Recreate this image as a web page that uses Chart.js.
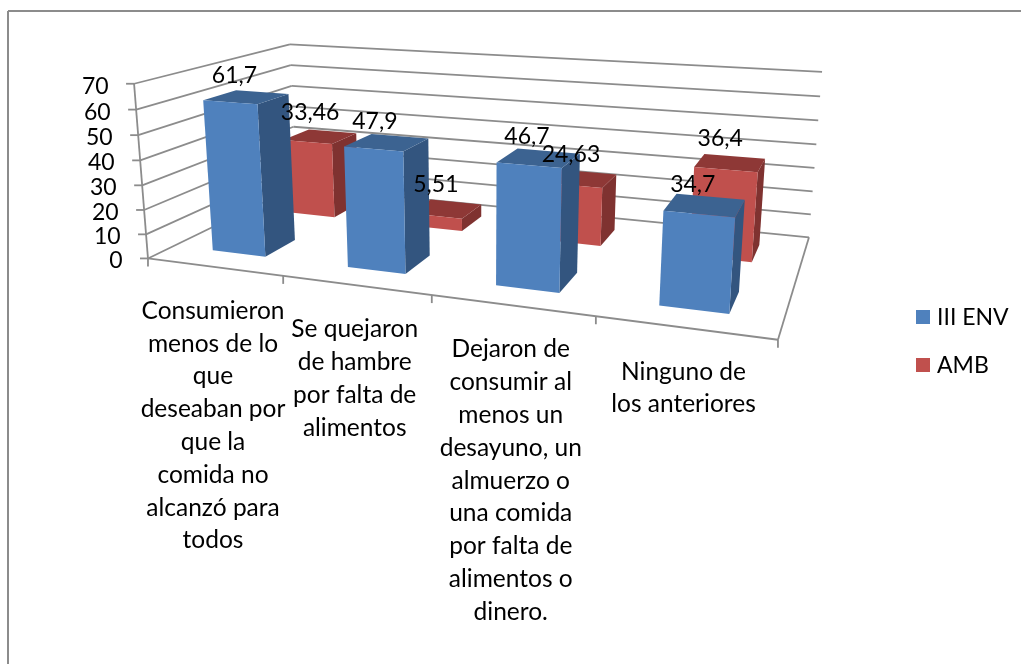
<!DOCTYPE html>
<html>
<head>
<meta charset="utf-8">
<title>Consumo de alimentos</title>
<script src="https://cdn.jsdelivr.net/npm/chart.js@4"></script>
<style>
    html, body { margin: 0; padding: 0; background: #fff; }
    #chart-box { position: relative; width: 1021px; height: 664px; }
</style>
</head>
<body>
<div id="chart-box"><canvas id="chart"></canvas></div>
<script>
// --- Data ---
const categories = [
    ['Consumieron', 'menos de lo', 'que', 'deseaban por', 'que la', 'comida no', 'alcanzó para', 'todos'],
    ['Se quejaron', 'de hambre', 'por falta de', 'alimentos'],
    ['Dejaron de', 'consumir al', 'menos un', 'desayuno, un', 'almuerzo o', 'una comida', 'por falta de', 'alimentos o', 'dinero.'],
    ['Ninguno de', 'los anteriores']
];
const envValues = [61.7, 47.9, 46.7, 34.7];
const ambValues = [33.46, 5.51, 24.63, 36.4];
const envLabels = ['61,7', '47,9', '46,7', '34,7'];
const ambLabels = ['33,46', '5,51', '24,63', '36,4'];

// --- Style ---
const FONT = '23px Lato, "Open Sans", sans-serif';
const CATEGORY_FONT = '24.5px Lato, "Open Sans", sans-serif';
const LINE_GREY = '#8c8c8c';
const BLUE = { front: '#4f81bd', side: '#33557f', top: '#3c6391' };
const RED = { front: '#c0504d', side: '#7f3230', top: '#8e3836' };
const ROW_DEPTH = [[0.15, 0.35], [0.65, 0.85]]; // env row, amb row
const LABEL_SHIFT = [{ x: -12, y: -21 }, { x: -10, y: -24 }];

// --- 3D view ---
// Screen points of the box corners as [u, d, v, x, y]
const VIEW_POINTS = [
    [0, 0, 0, 148, 258], [1, 0, 0, 778, 340], [0, 1, 0, 296, 187], [1, 1, 0, 809, 237],
    [0, 0, 1, 134, 84], [0, 1, 1, 290, 44], [1, 1, 1, 822, 72]
];

function solve(A, b) {
    const n = b.length;
    const M = A.map((row, i) => [...row, b[i]]);
    for (let c = 0; c < n; c++) {
        let p = c;
        for (let r = c + 1; r < n; r++) if (Math.abs(M[r][c]) > Math.abs(M[p][c])) p = r;
        [M[c], M[p]] = [M[p], M[c]];
        for (let r = 0; r < n; r++) {
            if (r === c) continue;
            const f = M[r][c] / M[c][c];
            for (let k = c; k <= n; k++) M[r][k] -= f * M[c][k];
        }
    }
    return M.map((row, i) => row[n] / row[i]);
}

// least squares fit of a 3x4 projection, last entry fixed to 1
function fitProjection(points) {
    const rows = [], rhs = [];
    points.forEach(([u, d, v, x, y]) => {
        rows.push([u, d, v, 1, 0, 0, 0, 0, -x * u, -x * d, -x * v]); rhs.push(x);
        rows.push([0, 0, 0, 0, u, d, v, 1, -y * u, -y * d, -y * v]); rhs.push(y);
    });
    const size = 11;
    const AtA = [], Atb = [];
    for (let i = 0; i < size; i++) {
        AtA.push([]);
        for (let j = 0; j < size; j++) AtA[i].push(rows.reduce((s, r) => s + r[i] * r[j], 0) + (i === j ? 1e-9 : 0));
        Atb.push(rows.reduce((s, r, k) => s + r[i] * rhs[k], 0));
    }
    return solve(AtA, Atb);
}

const P = fitProjection(VIEW_POINTS);
function project(u, d, v) {
    const w = P[8] * u + P[9] * d + P[10] * v + 1;
    return {
        x: (P[0] * u + P[1] * d + P[2] * v + P[3]) / w,
        y: (P[4] * u + P[5] * d + P[6] * v + P[7]) / w
    };
}

// --- Drawing helpers ---
function line(ctx, a, b) {
    ctx.beginPath();
    ctx.moveTo(a.x, a.y);
    ctx.lineTo(b.x, b.y);
    ctx.stroke();
}

function face(ctx, pts, color) {
    ctx.fillStyle = color;
    ctx.beginPath();
    pts.forEach((p, i) => (i ? ctx.lineTo(p.x, p.y) : ctx.moveTo(p.x, p.y)));
    ctx.closePath();
    ctx.fill();
}

const box3d = {
    id: 'box3d',
    beforeDatasetsDraw(chart) {
        const { ctx, chartArea: area, scales } = chart;
        const uOf = px => (px - area.left) / area.width;
        const vOf = py => (area.bottom - py) / area.height;
        const yTicks = scales.y.ticks.map(t => t.value);

        ctx.save();
        // page frame, only top and left edges show
        ctx.strokeStyle = LINE_GREY;
        ctx.lineWidth = 2;
        line(ctx, { x: 8, y: 664 }, { x: 8, y: 11 });
        line(ctx, { x: 8, y: 11 }, { x: 1021, y: 11 });

        // walls and value axis
        ctx.lineWidth = 1.8;
        ctx.font = FONT;
        ctx.fillStyle = '#000';
        ctx.textAlign = 'right';
        ctx.textBaseline = 'middle';
        yTicks.forEach(value => {
            const v = vOf(scales.y.getPixelForValue(value));
            const front = project(0, 0, v);
            const back = project(0, 1, v);
            line(ctx, front, back);
            line(ctx, back, project(1, 1, v));
            line(ctx, front, { x: front.x - 8, y: front.y });
            ctx.fillText(String(value), front.x - 25.5, front.y + 2.5);
        });
        line(ctx, project(0, 0, 0), project(0, 0, 1));

        // floor
        line(ctx, project(0, 0, 0), project(1, 0, 0));
        line(ctx, project(1, 0, 0), project(1, 1, 0));

        // category ticks and labels
        ctx.font = CATEGORY_FONT;
        ctx.textAlign = 'center';
        categories.forEach((lines, i) => {
            const left = uOf(scales.x.getPixelForValue(i) - area.width / categories.length / 2);
            const tick = project(left, 0, 0);
            line(ctx, tick, { x: tick.x, y: tick.y + 8 });
            const mid = project(uOf(scales.x.getPixelForValue(i)), 0, 0);
            lines.forEach((text, k) => ctx.fillText(text, mid.x - 1, mid.y + 44 + k * 32.8));
        });
        const end = project(1, 0, 0);
        line(ctx, end, { x: end.x, y: end.y + 8 });

        // bars, back row first
        [1, 0].forEach(row => {
            const colors = row === 0 ? BLUE : RED;
            const [d0, d1] = ROW_DEPTH[row];
            chart.getDatasetMeta(row).data.forEach(bar => {
                const u0 = uOf(bar.x - bar.width / 2);
                const u1 = uOf(bar.x + bar.width / 2);
                const v = vOf(bar.y);
                face(ctx, [project(u1, d0, 0), project(u1, d1, 0), project(u1, d1, v), project(u1, d0, v)], colors.side);
                face(ctx, [project(u0, d0, v), project(u1, d0, v), project(u1, d1, v), project(u0, d1, v)], colors.top);
                face(ctx, [project(u0, d0, 0), project(u1, d0, 0), project(u1, d0, v), project(u0, d0, v)], colors.front);
            });
        });

        // value labels on top of everything
        ctx.font = FONT;
        ctx.fillStyle = '#000';
        [envLabels, ambLabels].forEach((texts, row) => {
            const [d0, d1] = ROW_DEPTH[row];
            chart.getDatasetMeta(row).data.forEach((bar, i) => {
                const p = project(uOf(bar.x), (d0 + d1) / 2, vOf(bar.y));
                ctx.fillText(texts[i], p.x + LABEL_SHIFT[row].x, p.y + LABEL_SHIFT[row].y);
            });
        });

        // legend
        ctx.textAlign = 'left';
        chart.data.datasets.forEach((ds, i) => {
            const y = 317 + i * 48;
            ctx.fillStyle = ds.backgroundColor;
            ctx.fillRect(916, y - 7, 14, 14);
            ctx.fillStyle = '#000';
            ctx.fillText(ds.label, 937, y + 1);
        });
        ctx.restore();
        return false; // the flat bars are not drawn
    }
};

// --- Chart ---
new Chart(document.getElementById('chart'), {
    type: 'bar',
    data: {
        labels: categories,
        datasets: [
            { label: 'III ENV', data: envValues, backgroundColor: BLUE.front, grouped: false },
            { label: 'AMB', data: ambValues, backgroundColor: RED.front, grouped: false }
        ]
    },
    options: {
        responsive: true,
        maintainAspectRatio: false,
        animation: false,
        barPercentage: 0.4,
        categoryPercentage: 1,
        layout: { padding: 40 },
        plugins: { legend: { display: false }, tooltip: { enabled: false } },
        scales: {
            x: { display: false },
            y: { display: false, min: 0, max: 70, ticks: { stepSize: 10 } }
        }
    },
    plugins: [box3d]
});
</script>
</body>
</html>
